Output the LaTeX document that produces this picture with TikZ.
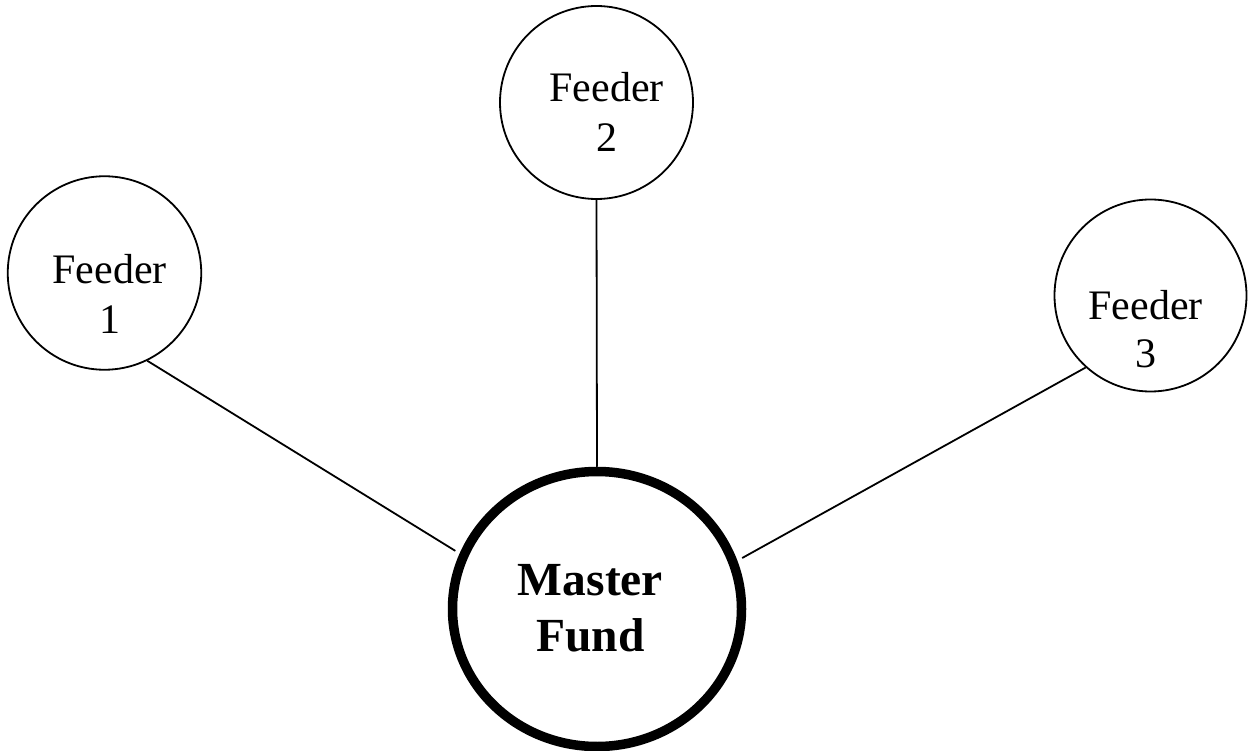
\documentclass[tikz,border=0pt]{standalone}
\usepackage{fontspec}
\setmainfont{Liberation Serif}
\usetikzlibrary{shapes.geometric}
\tikzset{
  feeder/.style={circle, draw, line width=1.8pt, inner sep=0pt, minimum size=#1},
  master/.style={ellipse, draw, line width=9.5pt, inner sep=0pt,
                 minimum width=289pt, minimum height=275pt},
  link/.style={line width=1.8pt},
  flabel/.style={anchor=base, inner sep=0pt, font=\fontsize{42}{49}\selectfont},
  mlabel/.style={anchor=base, inner sep=0pt, font=\fontsize{47.5}{56}\selectfont\bfseries}
}
\begin{document}
\begin{tikzpicture}[x=1pt, y=-1pt]
  \useasboundingbox (0,0) rectangle (1251,751);
  \clip (0,0) rectangle (1251,751);

  % fund circles
  \node[feeder=193.5pt] (f1) at (104.5,273) {};
  \node[feeder=193pt]   (f2) at (596.5,102.5) {};
  \node[feeder=192pt]   (f3) at (1150.5,295.5) {};
  \node[master]         (m)  at (597,609) {};

  % labels
  \node[flabel] (f1a) at (109.5,284) {Feeder};
  \node[flabel] (f1b) at (110,334) {1};
  \node[flabel] (f2a) at (606.5,102) {Feeder};
  \node[flabel] (f2b) at (607,152) {2};
  \node[flabel] (f3a) at (1145.5,320) {Feeder};
  \node[flabel] (f3b) at (1146,368) {3};
  \node[mlabel] (ma)  at (590.5,595) {Master};
  \node[mlabel] (mb)  at (590.5,651) {Fund};

  % feeder links into the master fund
  \draw[link, shorten >=5pt]   (f1.-64.2) -- (m.158.6);
  \draw[link]                  (f2.south) -- (m.north);
  \draw[link, shorten >=5.5pt] (f3.228.8) -- (m.19);
\end{tikzpicture}
\end{document}
